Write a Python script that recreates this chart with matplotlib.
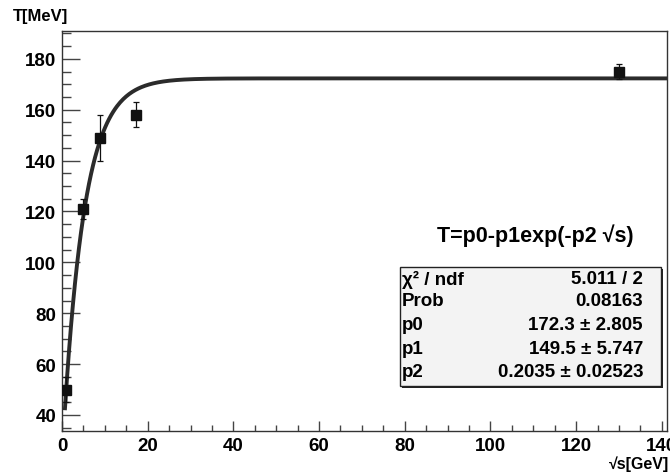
import numpy as np
import matplotlib.pyplot as plt
from matplotlib.patches import Rectangle
from matplotlib.ticker import MultipleLocator

plt.rcParams['font.family'] = ['Liberation Sans', 'DejaVu Sans']
plt.rcParams['font.weight'] = 'bold'

# measured points
sqrt_s = [0.9, 4.9, 8.8, 17.3, 130.0]
temp = [50, 121, 149, 158, 175]
temp_err = [5, 4, 9, 5, 3]

# fit result T = p0 - p1*exp(-p2*sqrt(s))
p0, p1, p2 = 172.3, 149.5, 0.2035
stat_labels = ["χ² / ndf", "Prob", "p0", "p1", "p2"]
stat_values = ["5.011 / 2", "0.08163", "172.3 ± 2.805", "149.5 ± 5.747", "0.2035 ± 0.02523"]

fig = plt.figure(figsize=(6.7, 4.77), dpi=100)
ax = fig.add_axes([0.0925, 0.0943, 0.903, 0.839])

xf = np.linspace(0.7, 141, 600)
ax.plot(xf, p0 - p1 * np.exp(-p2 * xf), color='#2b2b2b', lw=2.8, zorder=2)
ax.errorbar(sqrt_s, temp, yerr=temp_err, fmt='s', color='#111111', ms=6.5,
            elinewidth=0.9, capsize=2, capthick=0.9, zorder=3)

ax.set_xlim(0, 141.2)
ax.set_ylim(33.7, 191)
ax.xaxis.set_major_locator(MultipleLocator(20))
ax.xaxis.set_minor_locator(MultipleLocator(5))
ax.yaxis.set_major_locator(MultipleLocator(20))
ax.yaxis.set_minor_locator(MultipleLocator(5))
ax.tick_params(axis='both', which='both', direction='in', top=False, right=False,
               color='#444444', labelsize=13.5)
ax.tick_params(axis='y', which='major', length=13, width=1, pad=4)
ax.tick_params(axis='y', which='minor', length=6.5, width=1)
ax.tick_params(axis='x', which='major', length=7.5, width=1, pad=4)
ax.tick_params(axis='x', which='minor', length=4.5, width=1)
for lab in ax.get_xticklabels() + ax.get_yticklabels():
    lab.set_fontweight('bold')
for sp in ax.spines.values():
    sp.set_color('#333333')
    sp.set_linewidth(1)

fig.text(13 / 670, 1 - 16 / 477, "T[MeV]", fontsize=12, fontweight='bold', va='center', ha='left')
fig.text(669 / 670, 1 - 464 / 477, "√s[GeV]", fontsize=11.5, fontweight='bold', va='center', ha='right')

fig.text(535 / 670, 1 - 236 / 477, "T=p0-p1exp(-p2 √s)", fontsize=15.5, fontweight='bold',
         ha='center', va='center')

# stats box
bx0, by0, bx1, by1 = 400, 268, 661, 387
W, H = 670, 477
fig.patches.append(Rectangle((bx0 / W + 2 / W, 1 - by1 / H - 2 / H), (bx1 - bx0) / W, (by1 - by0) / H,
                             transform=fig.transFigure, facecolor='#222222', edgecolor='none', zorder=5))
fig.patches.append(Rectangle((bx0 / W, 1 - by1 / H), (bx1 - bx0) / W, (by1 - by0) / H,
                             transform=fig.transFigure, facecolor='#f3f3f3', edgecolor='#222222',
                             lw=1, zorder=6))
row_y = [280, 302, 326, 350, 373]
for lab, val, yy in zip(stat_labels, stat_values, row_y):
    fig.text(402 / W, 1 - yy / H, lab, fontsize=13.5, fontweight='bold', ha='left', va='center', zorder=7)
    fig.text(643 / W, 1 - yy / H, val, fontsize=13.5, fontweight='bold', ha='right', va='center', zorder=7)

fig.savefig("out.png", dpi=100)
